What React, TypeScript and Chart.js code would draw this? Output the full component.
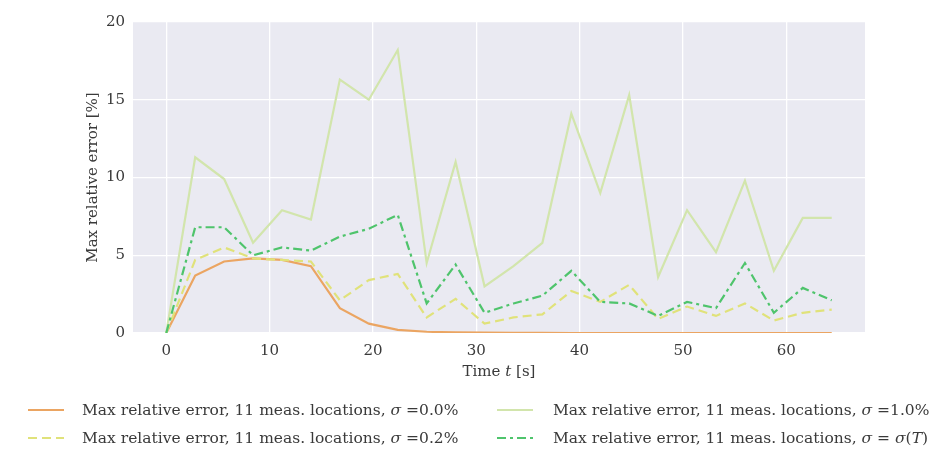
import React, { useEffect, useRef } from "react";
import { Chart, registerables } from "chart.js";

Chart.register(...registerables);

// Sample times [s]
const times = [
  0, 2.8, 5.6, 8.4, 11.2, 14.0, 16.8, 19.6, 22.4, 25.2, 28.0, 30.8,
  33.6, 36.4, 39.2, 42.0, 44.8, 47.6, 50.4, 53.2, 56.0, 58.8, 61.6, 64.4,
];

// Max relative error [%] per noise level
const errSigma00 = [
  0, 3.7, 4.6, 4.8, 4.7, 4.3, 1.6, 0.6, 0.2, 0.08, 0.04, 0.02,
  0.01, 0.01, 0, 0, 0, 0, 0, 0, 0, 0, 0, 0,
];
const errSigma02 = [
  0, 4.7, 5.5, 4.8, 4.7, 4.6, 2.1, 3.4, 3.8, 1.0, 2.2, 0.6,
  1.0, 1.2, 2.7, 2.0, 3.1, 0.9, 1.7, 1.1, 1.9, 0.8, 1.3, 1.5,
];
const errSigma10 = [
  0, 11.3, 9.9, 5.8, 7.9, 7.3, 16.3, 15.0, 18.2, 4.5, 11.0, 3.0,
  4.3, 5.8, 14.1, 9.0, 15.3, 3.6, 7.9, 5.2, 9.8, 4.0, 7.4, 7.4,
];
const errSigmaT = [
  0, 6.8, 6.8, 5.0, 5.5, 5.3, 6.2, 6.7, 7.6, 1.9, 4.4, 1.3,
  1.9, 2.4, 4.0, 2.0, 1.9, 1.1, 2.0, 1.6, 4.5, 1.3, 2.9, 2.1,
];

// Legend labels as [text, italic] runs
const seriesLabels: [string, boolean][][] = [
  [["Max relative error, 11 meas. locations, ", false], ["\u03c3", true], [" =0.0%", false]],
  [["Max relative error, 11 meas. locations, ", false], ["\u03c3", true], [" =0.2%", false]],
  [["Max relative error, 11 meas. locations, ", false], ["\u03c3", true], [" =1.0%", false]],
  [
    ["Max relative error, 11 meas. locations, ", false],
    ["\u03c3", true],
    [" = ", false],
    ["\u03c3", true],
    ["(", false],
    ["T", true],
    [")", false],
  ],
];
const xTitleRuns: [string, boolean][] = [["Time ", false], ["t", true], [" [s]", false]];
const yTitle = "Max relative error [%]";

const xTicks = [0, 10, 20, 30, 40, 50, 60];
const yTicks = [0, 5, 10, 15, 20];

const COLORS = ["#eba562", "#e0e27a", "#d2e5ac", "#4fc46c"];
const DASHES: number[][] = [[], [9, 5], [], [9, 4, 3, 4]];
const FONT = "'DejaVu Serif', 'Liberation Serif', serif";
const TEXT = "#3a3a3a";

const toPts = (ys: number[]) => times.map((t, i) => ({ x: t, y: ys[i] }));

function drawRuns(ctx: CanvasRenderingContext2D, runs: [string, boolean][], x: number, y: number, size: number) {
  let cx = x;
  for (const [txt, it] of runs) {
    ctx.font = `${it ? "italic " : ""}${size}px ${FONT}`;
    ctx.fillText(txt, cx, y);
    cx += ctx.measureText(txt).width;
  }
  return cx - x;
}

function runsWidth(ctx: CanvasRenderingContext2D, runs: [string, boolean][], size: number) {
  let w = 0;
  for (const [txt, it] of runs) {
    ctx.font = `${it ? "italic " : ""}${size}px ${FONT}`;
    w += ctx.measureText(txt).width;
  }
  return w;
}

// Shaded plot background
const backgroundPlugin = {
  id: "plotBackground",
  beforeDraw(chart: any) {
    const { ctx, chartArea } = chart;
    ctx.save();
    ctx.fillStyle = "#eaeaf2";
    ctx.fillRect(chartArea.left, chartArea.top, chartArea.right - chartArea.left, chartArea.bottom - chartArea.top);
    ctx.restore();
  },
};

// x-axis title with italic variable name
const xTitlePlugin = {
  id: "xTitle",
  afterDraw(chart: any) {
    const { ctx, chartArea } = chart;
    ctx.save();
    ctx.fillStyle = TEXT;
    ctx.textBaseline = "middle";
    ctx.textAlign = "left";
    const size = 15;
    const w = runsWidth(ctx, xTitleRuns, size);
    const cx = (chartArea.left + chartArea.right) / 2;
    drawRuns(ctx, xTitleRuns, cx - w / 2, chartArea.bottom + 39, size);
    ctx.restore();
  },
};

// Two-column legend under the axis title
const legendPlugin = {
  id: "twoColumnLegend",
  afterDraw(chart: any) {
    const { ctx } = chart;
    const cols = [
      { x0: 28, x1: 64, tx: 82 },
      { x0: 497, x1: 533, tx: 553 },
    ];
    const rows = [410, 438];
    // column-major ordering
    const place = [
      [0, 0],
      [0, 1],
      [1, 0],
      [1, 1],
    ];
    ctx.save();
    ctx.textBaseline = "middle";
    ctx.textAlign = "left";
    seriesLabels.forEach((runs, i) => {
      const c = cols[place[i][0]];
      const y = rows[place[i][1]];
      ctx.strokeStyle = COLORS[i];
      ctx.lineWidth = 2.2;
      ctx.setLineDash(DASHES[i]);
      ctx.beginPath();
      ctx.moveTo(c.x0, y);
      ctx.lineTo(c.x1, y);
      ctx.stroke();
      ctx.setLineDash([]);
      ctx.fillStyle = TEXT;
      drawRuns(ctx, runs, c.tx, y + 1, 15.5);
    });
    ctx.restore();
  },
};

export default function App() {
  const canvasRef = useRef<HTMLCanvasElement | null>(null);

  useEffect(() => {
    const canvas = canvasRef.current;
    if (!canvas) return;
    const seriesData = [errSigma00, errSigma02, errSigma10, errSigmaT];
    const drawOrder = [3, 2, 1, 0];
    const chart = new Chart(canvas, {
      type: "line",
      data: {
        datasets: seriesData.map((ys, i) => ({
          label: seriesLabels[i].map((r) => r[0]).join(""),
          data: toPts(ys),
          borderColor: COLORS[i],
          backgroundColor: COLORS[i],
          borderWidth: 2.2,
          borderDash: DASHES[i],
          pointRadius: 0,
          tension: 0,
          fill: false,
          order: drawOrder[i],
        })),
      },
      options: {
        responsive: false,
        animation: false,
        events: [],
        layout: { padding: { left: 84, top: 22, right: 74, bottom: 74 } },
        plugins: {
          legend: { display: false },
          tooltip: { enabled: false },
        },
        scales: {
          x: {
            type: "linear",
            min: -3.22,
            max: 67.62,
            border: { display: false },
            grid: { color: "#ffffff", lineWidth: 1.3, drawTicks: false },
            ticks: {
              padding: 9,
              color: TEXT,
              font: { family: FONT, size: 15 },
              callback: (v: any) => String(v),
            },
            afterBuildTicks: (scale: any) => {
              scale.ticks = xTicks.map((v) => ({ value: v }));
            },
            afterFit: (scale: any) => {
              scale.height = 48;
            },
            title: { display: false },
          },
          y: {
            type: "linear",
            min: 0,
            max: 20,
            border: { display: false },
            grid: { color: "#ffffff", lineWidth: 1.3, drawTicks: false },
            ticks: {
              padding: 8,
              color: TEXT,
              font: { family: FONT, size: 15 },
              callback: (v: any) => String(v),
            },
            afterBuildTicks: (scale: any) => {
              scale.ticks = yTicks.map((v) => ({ value: v }));
            },
            afterFit: (scale: any) => {
              scale.width = 49;
            },
            title: {
              display: true,
              text: yTitle,
              color: TEXT,
              font: { family: FONT, size: 15 },
              padding: 0,
            },
          },
        },
      },
      plugins: [backgroundPlugin, xTitlePlugin, legendPlugin],
    });
    return () => chart.destroy();
  }, []);

  return (
    <div style={{ position: "absolute", left: 0, top: 0, width: 939, height: 455, background: "#ffffff" }}>
      <canvas ref={canvasRef} width={939} height={455} style={{ display: "block" }} />
    </div>
  );
}
